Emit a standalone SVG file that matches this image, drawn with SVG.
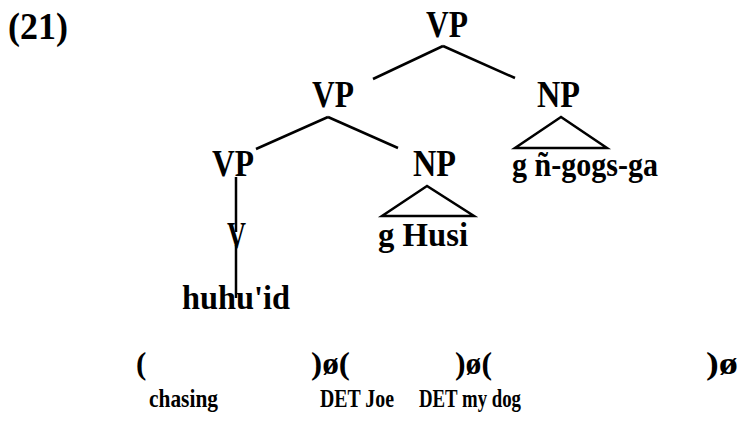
<svg xmlns="http://www.w3.org/2000/svg" width="741" height="432" viewBox="0 0 741 432">
<style>
.cat{font-family:"Liberation Serif",serif;font-weight:bold;font-size:37px;fill:#000}
.word{font-family:"Liberation Serif",serif;font-weight:bold;font-size:34px;fill:#000}
.br{font-family:"Liberation Serif",serif;font-weight:bold;font-size:31px;fill:#000}
.gl{font-family:"Liberation Serif",serif;font-weight:bold;font-size:25px;fill:#000}
.edge{stroke:#000;stroke-width:2.5;fill:none;stroke-linecap:butt}
</style>
<rect width="741" height="432" fill="#fff"/>
<text x="8" y="39" class="cat" font-size="37" textLength="60" lengthAdjust="spacingAndGlyphs">(21)</text>
<g id="vp-top"><text x="426" y="37" class="cat" textLength="42" lengthAdjust="spacingAndGlyphs">VP</text></g>
<g id="vp-mid"><text x="312" y="107" class="cat" textLength="42" lengthAdjust="spacingAndGlyphs">VP</text></g>
<g id="np-right"><text x="537" y="107" class="cat" textLength="43" lengthAdjust="spacingAndGlyphs">NP</text></g>
<g id="np-right-tri"><path class="edge" d="M561 117 L515 148 L607 148 Z"/><text x="512" y="176" class="word" textLength="146" lengthAdjust="spacingAndGlyphs">g ñ-gogs-ga</text></g>
<g id="vp-low"><text x="212" y="176" class="cat" textLength="42" lengthAdjust="spacingAndGlyphs">VP</text></g>
<g id="np-low"><text x="413" y="176" class="cat" textLength="43" lengthAdjust="spacingAndGlyphs">NP</text></g>
<g id="np-low-tri"><path class="edge" d="M427 186 L382 216 L474 216 Z"/><text x="378" y="246" class="word" textLength="90" lengthAdjust="spacingAndGlyphs">g Husi</text></g>
<g id="v"><text x="227" y="248" class="cat" font-size="40" textLength="19" lengthAdjust="spacingAndGlyphs">V</text></g>
<g id="huhuid"><text x="182" y="309" class="word" textLength="108" lengthAdjust="spacingAndGlyphs">huhu'id</text></g>
<g id="connectors">
<line class="edge" x1="443" y1="46" x2="373" y2="79"/>
<line class="edge" x1="443" y1="46" x2="515" y2="78"/>
<line class="edge" x1="328" y1="117" x2="256" y2="149"/>
<line class="edge" x1="328" y1="117" x2="398" y2="148"/>
<line class="edge" x1="236" y1="177" x2="236" y2="232"/>
<line class="edge" x1="236" y1="245" x2="236" y2="298"/>
</g>
<g id="bottom">
<text x="136" y="374" class="br">(</text>
<text x="311" y="374" class="br" textLength="39" lengthAdjust="spacingAndGlyphs">)ø(</text>
<text x="455" y="374" class="br" textLength="37" lengthAdjust="spacingAndGlyphs">)ø(</text>
<text x="706" y="374" class="br" textLength="32" lengthAdjust="spacingAndGlyphs">)ø</text>
<text x="149" y="407" class="gl" textLength="69" lengthAdjust="spacingAndGlyphs">chasing</text>
<text x="320" y="407" class="gl" textLength="74" lengthAdjust="spacingAndGlyphs">DET Joe</text>
<text x="419" y="407" class="gl" textLength="102" lengthAdjust="spacingAndGlyphs">DET my dog</text>
</g>
</svg>
